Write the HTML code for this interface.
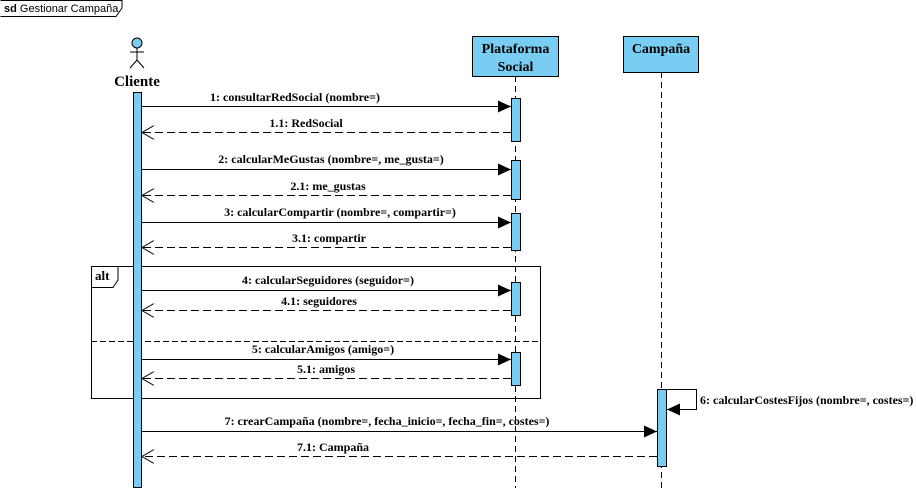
<!DOCTYPE html>
<html><head><meta charset="utf-8"><style>body{margin:0;background:#fff}svg{display:block}</style></head>
<body>
<svg width="916" height="488" xmlns="http://www.w3.org/2000/svg" font-family="'Liberation Serif',serif">
<defs>
<marker id="f" markerWidth="14" markerHeight="12" refX="13" refY="6" orient="auto" markerUnits="userSpaceOnUse"><path d="M0,0 L13,6 L0,12 z" fill="#000"/></marker>
<marker id="o" markerWidth="14" markerHeight="14" refX="13" refY="7" orient="auto" markerUnits="userSpaceOnUse"><path d="M1,0 L13,7 L1,14" fill="none" stroke="#000"/></marker>
</defs>
<path d="M0.5,0.5 H122 V8 L116,16.5 H0.5" fill="#fff" stroke="#000"/>
<text x="4" y="12" font-family="'Liberation Sans',sans-serif" font-size="11"><tspan font-weight="bold">sd</tspan> Gestionar Campaña</text>
<circle cx="137" cy="43" r="5" fill="#7acdf2" stroke="#000"/>
<line x1="137" y1="48" x2="137" y2="60" stroke="#000"/>
<line x1="130" y1="52" x2="144" y2="52" stroke="#000"/>
<line x1="137" y1="60" x2="130" y2="68" stroke="#000"/>
<line x1="137" y1="60" x2="144" y2="68" stroke="#000"/>
<text x="137" y="86" text-anchor="middle" font-size="15" font-weight="bold">Cliente</text>
<line x1="515.5" y1="76" x2="515.5" y2="488" stroke="#000" stroke-dasharray="6,4"/>
<line x1="661.5" y1="72" x2="661.5" y2="488" stroke="#000" stroke-dasharray="6,4"/>
<rect x="472.5" y="36.5" width="86" height="40" fill="#7acdf2" stroke="#000"/>
<text x="515.5" y="53" text-anchor="middle" font-size="14" font-weight="bold">Plataforma</text>
<text x="515.5" y="71" text-anchor="middle" font-size="14" font-weight="bold">Social</text>
<rect x="623.5" y="36.5" width="75" height="36" fill="#7acdf2" stroke="#000"/>
<text x="661" y="53" text-anchor="middle" font-size="14" font-weight="bold">Campaña</text>
<rect x="91.5" y="266.5" width="449" height="132" fill="none" stroke="#000"/>
<path d="M91.5,287.5 H113 L118,280 V266.5" fill="none" stroke="#000"/>
<text x="95" y="280" font-size="13" font-weight="bold">alt</text>
<line x1="91" y1="341.5" x2="540" y2="341.5" stroke="#000" stroke-dasharray="6,3"/>
<rect x="133.5" y="92.5" width="8" height="395" fill="#7acdf2" stroke="#000"/>
<rect x="511.5" y="98.5" width="9" height="43" fill="#7acdf2" stroke="#000"/>
<rect x="511.5" y="160.5" width="9" height="39" fill="#7acdf2" stroke="#000"/>
<rect x="511.5" y="213.5" width="9" height="37" fill="#7acdf2" stroke="#000"/>
<rect x="511.5" y="282.5" width="9" height="33" fill="#7acdf2" stroke="#000"/>
<rect x="511.5" y="352.5" width="9" height="33" fill="#7acdf2" stroke="#000"/>
<rect x="657.5" y="389.5" width="9" height="77" fill="#7acdf2" stroke="#000"/>
<g stroke="#000" fill="none">
<line x1="142" y1="106.5" x2="511" y2="106.5" marker-end="url(#f)"/>
<line x1="511" y1="132.5" x2="142" y2="132.5" stroke-dasharray="8,4" marker-end="url(#o)"/>
<line x1="142" y1="169.5" x2="511" y2="169.5" marker-end="url(#f)"/>
<line x1="511" y1="195.5" x2="142" y2="195.5" stroke-dasharray="8,4" marker-end="url(#o)"/>
<line x1="142" y1="222.5" x2="511" y2="222.5" marker-end="url(#f)"/>
<line x1="511" y1="247.5" x2="142" y2="247.5" stroke-dasharray="8,4" marker-end="url(#o)"/>
<line x1="142" y1="290.5" x2="511" y2="290.5" marker-end="url(#f)"/>
<line x1="511" y1="310.5" x2="142" y2="310.5" stroke-dasharray="8,4" marker-end="url(#o)"/>
<line x1="142" y1="359.5" x2="511" y2="359.5" marker-end="url(#f)"/>
<line x1="511" y1="378.5" x2="142" y2="378.5" stroke-dasharray="8,4" marker-end="url(#o)"/>
<path d="M667,389.5 H696.5 V409.5 H667" marker-end="url(#f)"/>
<line x1="142" y1="431.5" x2="657" y2="431.5" marker-end="url(#f)"/>
<line x1="657" y1="456.5" x2="142" y2="456.5" stroke-dasharray="8,4" marker-end="url(#o)"/>
</g>
<g font-size="12" font-weight="bold" text-anchor="middle">
<text x="295" y="101">1: consultarRedSocial (nombre=)</text>
<text x="306" y="127">1.1: RedSocial</text>
<text x="331" y="163">2: calcularMeGustas (nombre=, me_gusta=)</text>
<text x="328" y="190">2.1: me_gustas</text>
<text x="340" y="216">3: calcularCompartir (nombre=, compartir=)</text>
<text x="329" y="242">3.1: compartir</text>
<text x="328" y="284">4: calcularSeguidores (seguidor=)</text>
<text x="319" y="305">4.1: seguidores</text>
<text x="323" y="353">5: calcularAmigos (amigo=)</text>
<text x="326" y="373">5.1: amigos</text>
<text x="387" y="425">7: crearCampaña (nombre=, fecha_inicio=, fecha_fin=, costes=)</text>
<text x="333" y="451">7.1: Campaña</text>
<text x="700" y="404" text-anchor="start">6: calcularCostesFijos (nombre=, costes=)</text>
</g>
</svg>
</body></html>
